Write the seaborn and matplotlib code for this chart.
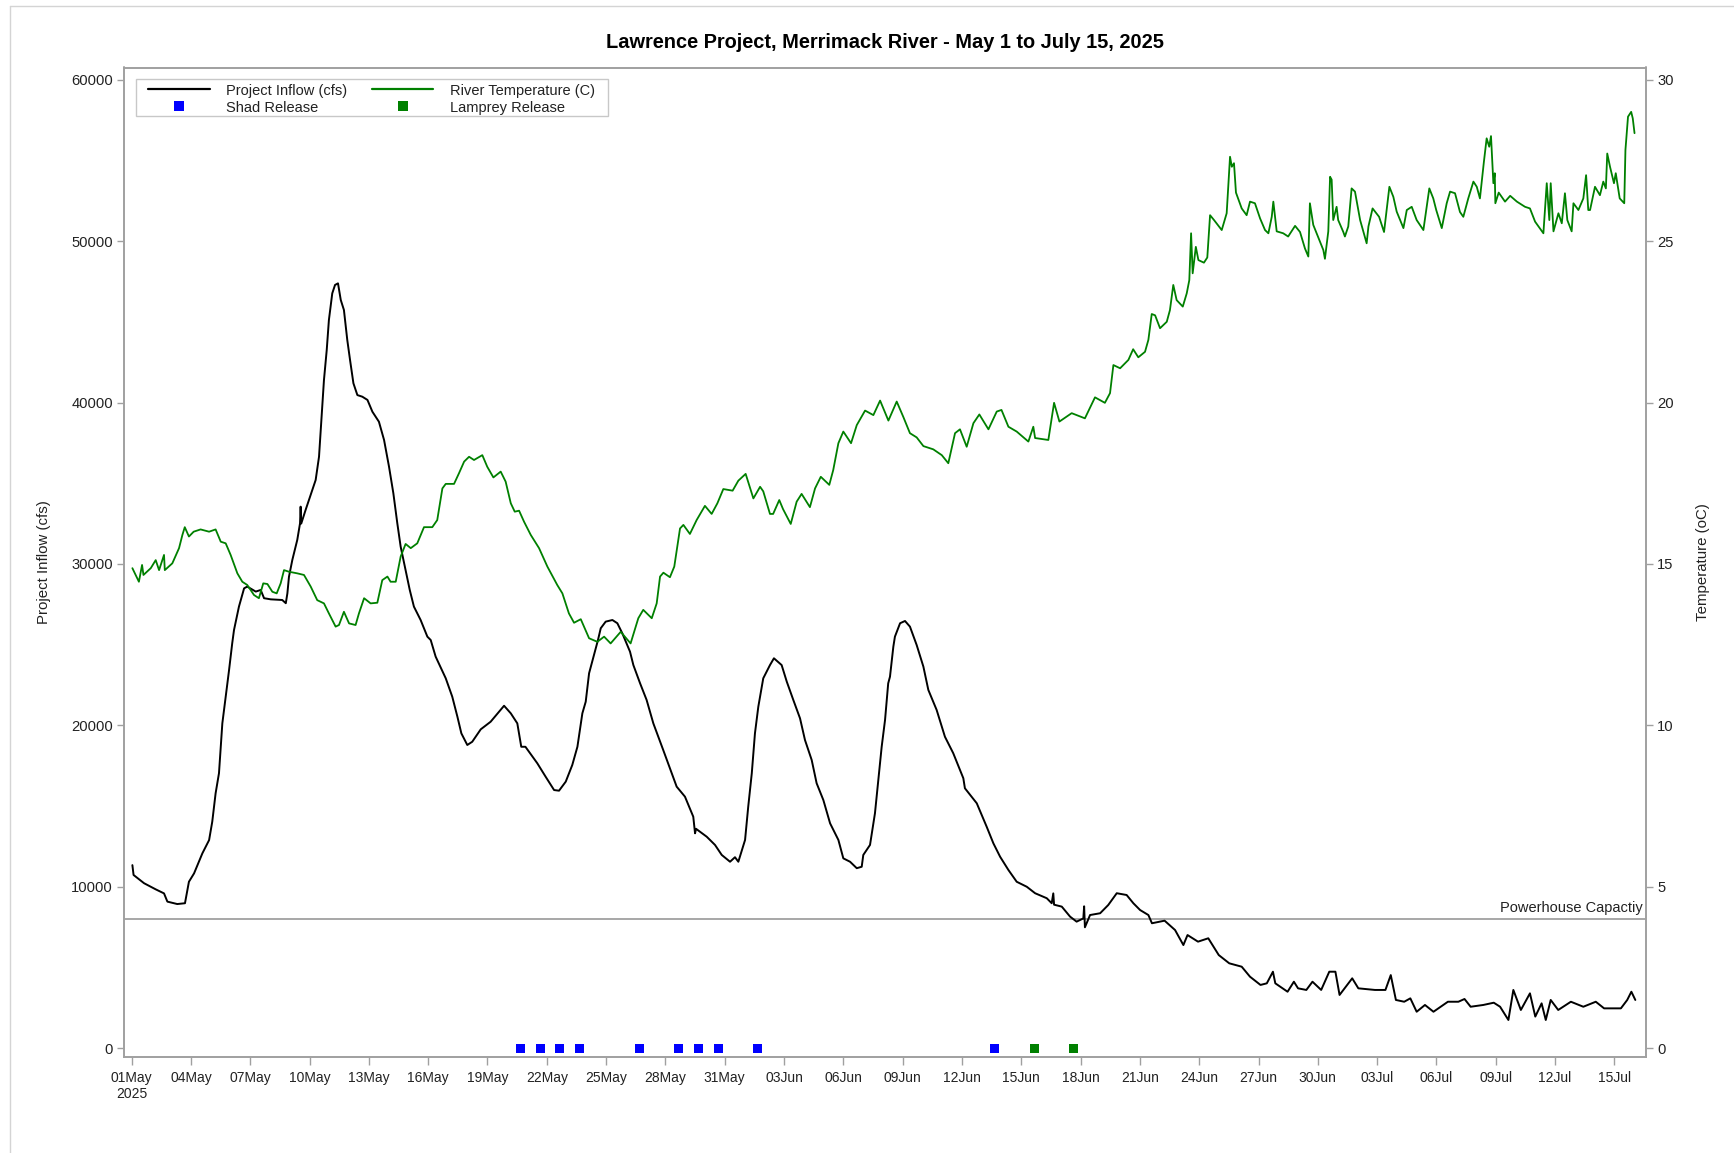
import numpy as np
import pandas as pd
import matplotlib
matplotlib.use("Agg")
import matplotlib.pyplot as plt
import seaborn as sns
from matplotlib.lines import Line2D
from matplotlib.patches import Rectangle

# ---------------- data ----------------
start_date = "2025-05-01"

# Project inflow (cfs): days after May 1 00:00, value
inflow_day = [0.04, 0.10, 0.63, 1.22, 1.64, 1.81, 2.31, 2.70, 2.90, 3.16, 3.58, 3.92, 4.08, 4.25, 4.42,
              4.59, 4.76, 4.93, 5.09, 5.18, 5.43, 5.69, 5.85, 6.28, 6.53, 6.70, 7.04, 7.62, 7.80, 7.88,
              7.96, 8.13, 8.38, 8.52, 8.55, 8.58, 8.80, 9.14, 9.31, 9.48, 9.60, 9.73, 9.87, 9.98, 10.15,
              10.29, 10.44, 10.58, 10.74, 10.91, 11.05, 11.22, 11.42, 11.67, 11.93, 12.18, 12.51, 12.77,
              13.02, 13.24, 13.44, 13.61, 13.86, 14.07, 14.28, 14.62, 14.96, 15.13, 15.38, 15.46, 15.89,
              16.22, 16.48, 16.68, 16.98, 17.23, 17.66, 18.16, 18.84, 19.18, 19.51, 19.71, 19.92, 20.52,
              20.94, 21.37, 21.62, 21.96, 22.29, 22.55, 22.80, 22.97, 23.14, 23.39, 23.59, 23.73, 23.98,
              24.32, 24.57, 24.82, 25.21, 25.38, 25.72, 26.05, 26.39, 26.89, 27.32, 27.57, 27.99, 28.41,
              28.50, 28.55, 28.75, 29.09, 29.51, 29.85, 30.27, 30.52, 30.69, 31.03, 31.19, 31.37, 31.53,
              31.70, 31.95, 32.29, 32.49, 32.88, 33.14, 33.47, 33.81, 34.06, 34.40, 34.65, 34.99, 35.33,
              35.75, 36.00, 36.34, 36.68, 36.93, 37.01, 37.35, 37.60, 37.77, 37.94, 38.11, 38.27, 38.36,
              38.53, 38.61, 38.87, 39.12, 39.37, 39.71, 40.05, 40.30, 40.72, 41.14, 41.56, 42.07, 42.15,
              42.75, 43.25, 43.59, 43.93, 44.35, 44.77, 45.28, 45.70, 46.29, 46.54, 46.62, 46.66, 47.05,
              47.47, 47.80, 48.14, 48.18, 48.22, 48.48, 48.99, 49.40, 49.83, 50.33, 50.67, 51.01, 51.43,
              51.61, 52.25, 52.78, 53.20, 53.41, 53.94, 54.46, 54.99, 55.52, 56.15, 56.57, 57.10, 57.42,
              57.73, 57.85, 58.47, 58.79, 59.00, 59.42, 59.73, 60.17, 60.58, 60.89, 61.10, 61.42, 61.74,
              62.05, 62.89, 63.42, 63.69, 63.95, 64.37, 64.68, 65.00, 65.42, 65.85, 66.58, 67.11, 67.42,
              67.73, 68.37, 68.90, 69.22, 69.64, 69.89, 70.27, 70.73, 71.00, 71.32, 71.53, 71.78, 72.16,
              72.80, 73.43, 74.06, 74.48, 75.33, 75.65, 75.86, 76.06]
inflow_cfs = [11350, 10740, 10230, 9850, 9600, 9090, 8940, 8990, 10320, 10840, 12080, 12900, 14040, 15800, 17040,
              20130, 21780, 23430, 25090, 25910, 27360, 28490, 28600, 28290, 28390, 27880, 27810, 27770, 27570, 28180,
              29210, 30250, 31490, 32520, 33550, 32500, 33340, 34580, 35200, 36640, 38920, 41390, 43250, 45110, 46760,
              47280, 47380, 46350, 45730, 43870, 42630, 41190, 40460, 40360, 40160, 39430, 38810, 37680,
              36030, 34380, 32520, 31070, 29630, 28390, 27360, 26530, 25500, 25290, 24260, 24050, 22920,
              21780, 20540, 19510, 18790, 18990, 19760, 20230, 21220, 20750, 20130, 18680, 18680, 17660,
              16830, 16000, 15960, 16520, 17550, 18680, 20750, 21470, 23230, 24360, 25290, 26020, 26430,
              26530, 26330, 25710, 24570, 23740, 22610, 21580, 20130, 18480, 17040, 16210, 15590, 14350,
              13320, 13600, 13420, 13110, 12600, 11980, 11560, 11840, 11560, 12910, 14970, 17040, 19510,
              21160, 22920, 23740, 24160, 23740, 22710, 21580, 20440, 19100, 17860, 16420, 15380, 13940,
              12910, 11770, 11560, 11160, 11250, 11980, 12600, 14560, 16620, 18680, 20340, 22610, 23020,
              24880, 25500, 26330, 26470, 26120, 24980, 23640, 22200, 20960, 19300, 18280, 16730, 16110,
              15180, 13730, 12700, 11870, 11050, 10320, 10010, 9610, 9300, 8990, 9600, 8900, 8780,
              8160, 7850, 8050, 8800, 7500, 8260, 8370, 8880, 9610, 9500, 8990, 8570, 8260,
              7750, 7910, 7330, 6400, 7020, 6610, 6820, 5780, 5270, 5060, 4440, 3930, 4030,
              4750, 4030, 3510, 4130, 3720, 3620, 4130, 3620, 4750, 4750, 3310, 3820, 4340,
              3720, 3620, 3620, 4540, 3000, 2890, 3100, 2270, 2690, 2270, 2890, 2890, 3060,
              2580, 2690, 2830, 2580, 1760, 3620, 2380, 3410, 1970, 2790, 1760, 3000, 2380,
              2890, 2580, 2890, 2480, 2480, 3000, 3510, 3000]

# River temperature (C): days after May 1 00:00, value
temp_day = [0.04, 0.37, 0.53, 0.60, 0.97, 1.22, 1.39, 1.64, 1.68, 2.06, 2.40, 2.57, 2.69, 2.90, 3.14, 3.49,
            3.92, 4.25, 4.51, 4.76, 5.01, 5.35, 5.60, 5.85, 6.19, 6.44, 6.66, 6.87, 7.12, 7.34, 7.54, 7.71,
            7.96, 8.38, 8.72, 9.06, 9.39, 9.73, 9.98, 10.32, 10.49, 10.74, 11.00, 11.33, 11.50, 11.76, 12.09,
            12.43, 12.68, 12.94, 13.10, 13.36, 13.61, 13.86, 14.12, 14.45, 14.79, 15.21, 15.46, 15.72, 15.89,
            16.31, 16.56, 16.82, 17.07, 17.32, 17.74, 17.99, 18.30, 18.67, 18.92, 19.18, 19.38, 19.60, 19.85,
            20.19, 20.61, 21.03, 21.53, 21.79, 22.12, 22.38, 22.72, 23.14, 23.56, 23.90, 24.23, 24.74, 25.24,
            25.63, 25.88, 26.31, 26.56, 26.73, 26.90, 27.23, 27.45, 27.74, 27.91, 28.24, 28.58, 29.00, 29.34,
            29.63, 29.93, 30.40, 30.69, 31.06, 31.45, 31.79, 31.95, 32.29, 32.45, 32.76, 32.95, 33.34, 33.64,
            33.89, 34.31, 34.57, 34.86, 35.29, 35.49, 35.75, 36.00, 36.39, 36.68, 37.10, 37.52, 37.86, 38.28,
            38.70, 39.03, 39.37, 39.71, 40.05, 40.55, 40.98, 41.31, 41.65, 41.90, 42.24, 42.58, 42.88, 43.34,
            43.76, 44.00, 44.35, 44.77, 45.36, 45.61, 45.70, 46.37, 46.66, 46.93, 47.55, 48.22, 48.73, 49.23,
            49.49, 49.66, 50.00, 50.42, 50.66, 50.92, 51.26, 51.43, 51.60, 51.77, 52.02, 52.36, 52.52, 52.69,
            52.86, 53.17, 53.37, 53.50, 53.59, 53.67, 53.83, 53.96, 54.24, 54.41, 54.55, 54.75, 55.14, 55.39,
            55.56, 55.65, 55.76, 55.86, 56.15, 56.40, 56.57, 56.82, 57.08, 57.33, 57.50, 57.67, 57.75, 57.92,
            58.25, 58.50, 58.85, 59.10, 59.35, 59.52, 59.60, 59.77, 59.94, 60.28, 60.36, 60.53, 60.62, 60.70,
            60.78, 60.95, 61.03, 61.29, 61.37, 61.54, 61.71, 61.88, 62.14, 62.47, 62.56, 62.77, 63.10, 63.35,
            63.62, 63.82, 63.99, 64.33, 64.50, 64.75, 65.00, 65.34, 65.64, 65.84, 65.99, 66.27, 66.52, 66.69,
            66.94, 67.19, 67.36, 67.61, 67.87, 68.04, 68.20, 68.40, 68.54, 68.67, 68.76, 68.88, 68.95, 68.98,
            69.15, 69.47, 69.73, 70.07, 70.48, 70.73, 70.99, 71.41, 71.58, 71.71, 71.78, 71.92, 72.17, 72.34,
            72.50, 72.62, 72.84, 72.93, 73.18, 73.43, 73.57, 73.68, 73.77, 74.02, 74.27, 74.44, 74.57, 74.64,
            74.78, 74.98, 75.07, 75.27, 75.50, 75.56, 75.69, 75.85, 75.93, 76.02]
temp_c = [14.87, 14.45, 14.97, 14.66, 14.87, 15.12, 14.81, 15.28, 14.81, 15.02, 15.49, 15.90, 16.14, 15.85, 16.00, 16.07,
          16.00, 16.07, 15.69, 15.64, 15.28, 14.71, 14.45, 14.35, 14.04, 13.94, 14.40, 14.38, 14.14, 14.09, 14.40, 14.81,
          14.76, 14.71, 14.66, 14.30, 13.88, 13.78, 13.47, 13.06, 13.11, 13.52, 13.16, 13.11, 13.47, 13.94, 13.78,
          13.80, 14.50, 14.61, 14.45, 14.45, 15.23, 15.62, 15.49, 15.64, 16.14, 16.14, 16.36, 17.34, 17.48,
          17.48, 17.81, 18.17, 18.32, 18.22, 18.37, 18.01, 17.68, 17.86, 17.55, 16.88, 16.62, 16.65, 16.31,
          15.90, 15.49, 14.92, 14.35, 14.09, 13.47, 13.18, 13.29, 12.70, 12.59, 12.75, 12.54, 12.90, 12.54,
          13.32, 13.58, 13.32, 13.78, 14.61, 14.73, 14.59, 14.92, 16.10, 16.21, 15.93, 16.36, 16.80, 16.55,
          16.88, 17.32, 17.27, 17.58, 17.79, 17.03, 17.39, 17.25, 16.55, 16.55, 16.98, 16.70, 16.24, 16.93,
          17.17, 16.76, 17.34, 17.70, 17.45, 17.91, 18.74, 19.10, 18.74, 19.30, 19.75, 19.61, 20.06, 19.44,
          20.03, 19.56, 19.05, 18.92, 18.65, 18.55, 18.37, 18.12, 19.05, 19.17, 18.63, 19.36, 19.63, 19.17,
          19.72, 19.77, 19.25, 19.10, 18.79, 19.25, 18.90, 18.84, 19.99, 19.41, 19.67, 19.51, 20.16, 19.99,
          20.29, 21.16, 21.06, 21.32, 21.65, 21.40, 21.57, 21.94, 22.74, 22.70, 22.30, 22.50, 22.86, 23.64,
          23.17, 22.97, 23.38, 23.79, 25.24, 24.00, 24.82, 24.41, 24.33, 24.49, 25.80, 25.65, 25.34, 25.86,
          27.61, 27.30, 27.41, 26.50, 26.01, 25.80, 26.22, 26.17, 25.70, 25.34, 25.24, 25.75, 26.22, 25.30,
          25.24, 25.14, 25.47, 25.28, 24.77, 24.52, 26.17, 25.50, 25.24, 24.72, 24.45, 25.30, 26.99, 26.90,
          25.65, 26.06, 25.65, 25.28, 25.14, 25.45, 26.63, 26.53, 25.65, 24.93, 25.45, 26.01, 25.75, 25.28,
          26.68, 26.37, 25.91, 25.40, 25.96, 26.06, 25.65, 25.34, 26.63, 26.32, 25.96, 25.40, 26.17, 26.53,
          26.48, 25.90, 25.75, 26.32, 26.84, 26.68, 26.32, 27.45, 28.18, 27.92, 28.25, 26.79, 27.10, 26.17,
          26.50, 26.22, 26.40, 26.22, 26.06, 26.01, 25.60, 25.24, 26.79, 25.65, 26.79, 25.30, 25.86, 25.55,
          26.48, 25.65, 25.30, 26.17, 25.96, 26.32, 27.04, 25.96, 25.96, 26.68, 26.42, 26.84, 26.63, 27.71,
          27.30, 26.79, 27.10, 26.32, 26.17, 27.82, 28.85, 29.00, 28.80, 28.34]

shad_release = ["2025-05-20 16:00", "2025-05-21 16:00", "2025-05-22 16:00", "2025-05-23 16:00",
                "2025-05-26 16:00", "2025-05-28 16:00", "2025-05-29 16:00", "2025-05-30 16:00",
                "2025-06-01 16:00", "2025-06-13 16:00"]
lamprey_release = ["2025-06-15 16:00", "2025-06-17 16:00"]

powerhouse_capacity = 8000
inflow_ticks = [0, 10000, 20000, 30000, 40000, 50000, 60000]
temp_ticks = [0, 5, 10, 15, 20, 25, 30]
date_ticks = pd.date_range("2025-05-01", "2025-07-15", freq="3D")
date_tick_labels = [d.strftime("%d%b") for d in date_ticks]
date_tick_labels[0] = date_tick_labels[0] + "\n2025"

title = "Lawrence Project, Merrimack River - May 1 to July 15, 2025"

# ---------------- styling ----------------
sns.set_theme(style="white")
plt.rcParams["font.family"] = ["Liberation Sans", "DejaVu Sans"]

W, H = 1734, 1153
fig = plt.figure(figsize=(W / 100, H / 100), dpi=100)
ax_l, ax_r, ax_t, ax_b = 124, 1646, 67.5, 1056.7
ax = fig.add_axes([ax_l / W, 1 - ax_b / H, (ax_r - ax_l) / W, (ax_b - ax_t) / H])
ax2 = ax.twinx()

t0 = pd.Timestamp(start_date)
inflow_time = t0 + pd.to_timedelta(np.array(inflow_day), unit="D")
temp_time = t0 + pd.to_timedelta(np.array(temp_day), unit="D")
shad_time = pd.to_datetime(shad_release)
lamprey_time = pd.to_datetime(lamprey_release)

BLACK = "#000000"
GREEN = "#008000"
BLUE = "#0000ff"
GRAY = "#a0a0a0"
TXT = "#222222"

sns.lineplot(x=inflow_time, y=np.array(inflow_cfs), ax=ax, color=BLACK, linewidth=1.4,
             legend=False, zorder=3)
ax.axhline(powerhouse_capacity, color=GRAY, linewidth=1.3, zorder=2)
sns.scatterplot(x=shad_time, y=np.zeros(len(shad_time)), ax=ax, marker="s", color=BLUE,
                s=42, edgecolor="none", linewidth=0, legend=False, zorder=4)
sns.scatterplot(x=lamprey_time, y=np.zeros(len(lamprey_time)), ax=ax, marker="s", color=GREEN,
                s=42, edgecolor="none", linewidth=0, legend=False, zorder=4)
sns.lineplot(x=temp_time, y=np.array(temp_c), ax=ax2, color=GREEN, linewidth=1.3,
             legend=False, zorder=3)

# axes limits
y0, y1 = -514, 60747
ax.set_ylim(y0, y1)
ax2.set_ylim(y0 / 2000, y1 / 2000)
ax.set_xlim(t0 + pd.Timedelta(days=-0.384), t0 + pd.Timedelta(days=76.6))

ax.set_yticks(inflow_ticks)
ax.set_yticklabels([str(v) for v in inflow_ticks])
ax2.set_yticks(temp_ticks)
ax2.set_yticklabels([str(v) for v in temp_ticks])
ax.set_xticks(date_ticks)
ax.set_xticklabels(date_tick_labels)

for a in (ax, ax2):
    for sp in a.spines.values():
        sp.set_color(GRAY)
        sp.set_linewidth(1.2)
ax.tick_params(axis="x", bottom=True, direction="out", length=5.5, width=1, color=GRAY,
               labelsize=10, labelcolor=TXT, pad=5)
ax.tick_params(axis="y", left=True, direction="out", length=5, width=1, color=GRAY,
               labelsize=10.6, labelcolor=TXT, pad=3)
ax2.tick_params(axis="y", right=True, direction="out", length=5, width=1, color=GRAY,
                labelsize=10.6, labelcolor=TXT, pad=3)

ax.set_xlabel("")
ax2.set_xlabel("")
ax.set_ylabel("Project Inflow (cfs)", fontsize=10.8, color=TXT)
ax2.set_ylabel("Temperature (oC)", fontsize=10.8, color=TXT)
ax.yaxis.set_label_coords((51 - ax_l) / (ax_r - ax_l), 0.5)
ax2.yaxis.set_label_coords((1696 - ax_l) / (ax_r - ax_l), 0.5)

# powerhouse label
ax.annotate("Powerhouse Capactiy", xy=(1.0, powerhouse_capacity),
            xycoords=ax.get_yaxis_transform(), xytext=(-3, 4), textcoords="offset pixels",
            ha="right", va="bottom", fontsize=10.5, color=TXT)

# title
fig.text(((ax_l + ax_r) / 2) / W, 1 - 48.5 / H, title, ha="center", va="baseline",
         fontsize=14.4, fontweight="bold", color="#000000")

# legend (frame drawn separately)
def ax_x(px):
    return (px - ax_l) / (ax_r - ax_l)

def ax_y(py):
    return 1 - (py - ax_t) / (ax_b - ax_t)

frame = Rectangle((ax_x(135.7), ax_y(116)), ax_x(608.3) - ax_x(135.7), ax_y(79.3) - ax_y(116),
                  transform=ax2.transAxes, facecolor="white", edgecolor="#c8c8c8",
                  linewidth=1.0, zorder=5)
ax2.add_patch(frame)
handles = [Line2D([], [], color=BLACK, lw=1.6),
           Line2D([], [], marker="s", ls="", color=BLUE, markersize=6.5, markeredgewidth=0),
           Line2D([], [], color=GREEN, lw=1.6),
           Line2D([], [], marker="s", ls="", color=GREEN, markersize=6.5, markeredgewidth=0)]
labels = ["Project Inflow (cfs)", "Shad Release", "River Temperature (C)", "Lamprey Release"]
leg = ax2.legend(handles, labels, ncol=2, loc="upper left",
                 bbox_to_anchor=(ax_x(148.3), ax_y(83.6)), borderaxespad=0, borderpad=0,
                 frameon=False, fontsize=10.5, handlelength=4.2, handletextpad=1.1,
                 columnspacing=1.75, labelspacing=0.2)
leg.set_zorder(6)
for txt in leg.get_texts():
    txt.set_color(TXT)

# light page border
fig.add_artist(Line2D([10 / W, 1], [1 - 6 / H, 1 - 6 / H], transform=fig.transFigure,
                      color="#d4d4d4", lw=1))
fig.add_artist(Line2D([10 / W, 10 / W], [0, 1 - 6 / H], transform=fig.transFigure,
                      color="#d4d4d4", lw=1))

fig.savefig("out.png", dpi=100)
